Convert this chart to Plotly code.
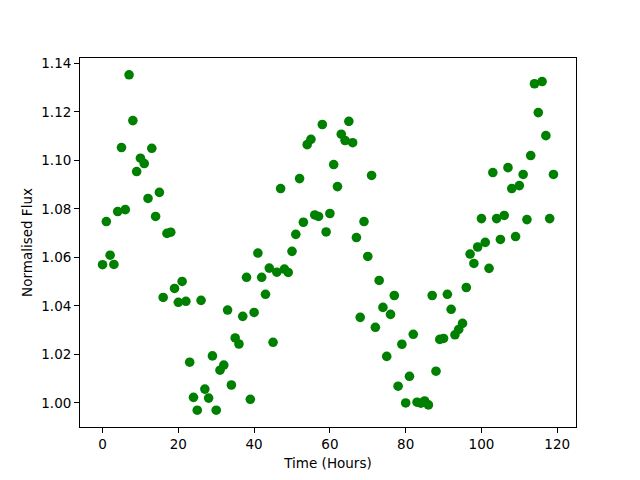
import plotly.graph_objects as go

hours = list(range(120))
flux = [
    1.057, 1.0748, 1.0609, 1.0571, 1.0789, 1.1053, 1.0797, 1.1353, 1.1164, 1.0954,
    1.1009, 1.0987, 1.0843, 1.105, 1.0769, 1.0868, 1.0435, 1.0699, 1.0704, 1.0472,
    1.0415, 1.0501, 1.0419, 1.0168, 1.0023, 0.997, 1.0423, 1.0057, 1.002, 1.0194,
    0.997, 1.0135, 1.0156, 1.0383, 1.0074, 1.0268, 1.0243, 1.0357, 1.0518, 1.0015,
    1.0373, 1.0618, 1.0518, 1.0448, 1.0556, 1.025, 1.0539, 1.0884, 1.0552, 1.0538,
    1.0625, 1.0695, 1.0925, 1.0745, 1.1065, 1.1087, 1.0775, 1.0769, 1.1148, 1.0705,
    1.0781, 1.0983, 1.0892, 1.1108, 1.1082, 1.1161, 1.1073, 1.0682, 1.0353, 1.0748,
    1.0604, 1.0938, 1.0312, 1.0505, 1.0394, 1.0192, 1.0365, 1.0443, 1.0069, 1.0242,
    1.0, 1.011, 1.0283, 1.0003, 0.9999, 1.0008, 0.9992, 1.0443, 1.0131, 1.0262,
    1.0266, 1.0448, 1.0386, 1.0281, 1.0303, 1.0328, 1.0476, 1.0614, 1.0575, 1.0643,
    1.076, 1.0662, 1.0555, 1.095, 1.076, 1.0674, 1.0773, 1.097, 1.0884, 1.0686,
    1.0896, 1.0942, 1.0756, 1.102, 1.1316, 1.1197, 1.1325, 1.1102, 1.076, 1.0942,
]

x_ticks = [0, 20, 40, 60, 80, 100, 120]
y_ticks = [1.00, 1.02, 1.04, 1.06, 1.08, 1.10, 1.12, 1.14]


def padded(vals, frac=0.05):
    lo, hi = min(vals), max(vals)
    d = (hi - lo) * frac
    return [lo - d, hi + d]


fig = go.Figure(
    go.Scatter(
        x=hours, y=flux, mode="markers",
        marker=dict(color="#008000", size=9.6, line=dict(width=0)),
    )
)

axis_common = dict(
    showgrid=False, zeroline=False, showline=True, linecolor="black",
    linewidth=1.1, mirror=True, ticks="outside", ticklen=4.9, tickwidth=1.1,
    tickcolor="black", tickfont=dict(family="DejaVu Sans", size=13.5, color="black"),
)

fig.update_layout(
    width=640, height=480,
    margin=dict(l=72, r=72, t=50, b=61),
    paper_bgcolor="white", plot_bgcolor="white",
    showlegend=False,
    font=dict(family="DejaVu Sans", size=13.5, color="black"),
    xaxis=dict(
        range=padded(hours), tickvals=x_ticks,
        ticktext=[str(v) for v in x_ticks],
        title=dict(text="Time (Hours)", standoff=7,
                   font=dict(family="DejaVu Sans", size=13.5)),
        **axis_common,
    ),
    yaxis=dict(
        range=padded(flux), tickvals=y_ticks,
        ticktext=[f"{v:.2f}" for v in y_ticks],
        title=dict(text="Normalised Flux", standoff=5,
                   font=dict(family="DejaVu Sans", size=13.5)),
        **axis_common,
    ),
)

fig.write_html("out.html")
